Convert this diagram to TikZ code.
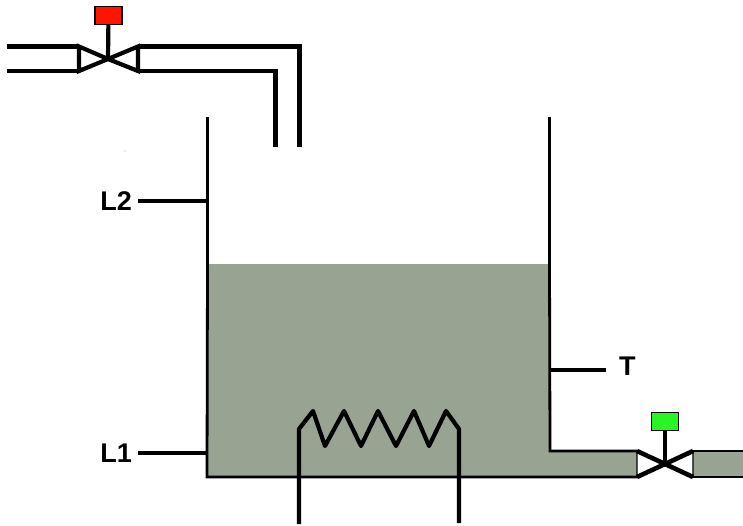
\documentclass[tikz,border=0pt]{standalone}
\usepackage{fontspec}
\setmainfont{Liberation Sans}
\usetikzlibrary{positioning, calc}
\definecolor{liquid}{RGB}{153,163,146}
\definecolor{redact}{RGB}{255,20,0}
\definecolor{greenact}{RGB}{40,245,35}
\tikzset{
  pipe/.style={draw, line width=4.2pt},
  wall/.style={draw, line width=3.8pt},
  edgeline/.style={draw, line width=2.8pt},
  valve/.style={draw, fill=white, line width=4.2pt, line join=miter},
  valvethin/.style={draw, fill=white, line width=1.4pt},
  act/.style={draw=black, line width=1.8pt, fill=#1, minimum width=27pt, minimum height=18pt, inner sep=0pt, outer sep=0pt},
  tag/.style={font=\fontsize{27}{27}\selectfont\bfseries, inner sep=0pt},
}
\begin{document}
\begin{tikzpicture}[x=1pt, y=-1pt]
    \useasboundingbox (0,0) rectangle (743,525);
    % liquid
    \fill[liquid] (207,264) rectangle (549,477);
    \fill[liquid] (549,451) rectangle (637,477);
    \fill[liquid] (693,451) rectangle (743,477);
    % tank
    \coordinate (wallLtop) at (207.5,117);
    \coordinate (wallLbot) at (207.5,264);
    \coordinate (wallRtop) at (549.5,117);
    \coordinate (wallRbot) at (549.5,264);
    \coordinate (tankBL) at (207,477);
    \coordinate (outT) at (550,451);
    \coordinate (outTend) at (637,451);
    \coordinate (outBend) at (637,477);
    \coordinate (pipeRT) at (693,451);
    \coordinate (pipeRB) at (693,477);
    \coordinate (endRT) at (743,451);
    \coordinate (endRB) at (743,477);
    \draw[wall] (wallLtop) -- (wallLbot);
    \draw[wall] (wallRtop) -- (wallRbot);
    \draw[edgeline] (wallLbot) -- (tankBL) -- (outBend);
    \draw[edgeline] (wallRbot) -- (outT) -- (outTend);
    \draw[edgeline] (pipeRT) -- (endRT);
    \draw[edgeline] (pipeRB) -- (endRB);
    % inlet valve
    \coordinate (vin) at (108,59);
    \coordinate (inTL) at (7,46.5);
    \coordinate (inBL) at (7,71);
    \coordinate (vinTL) at (79,46.5);
    \coordinate (vinBL) at (79,71);
    \coordinate (vinTR) at (138,46.5);
    \coordinate (vinBR) at (138,71);
    \coordinate (inTR) at (299.5,46.5);
    \coordinate (inBR) at (275.5,71);
    \coordinate (inTE) at (299.5,147);
    \coordinate (inBE) at (275.5,147);
    \node[act=redact] (actin) at (108.5,15.5) {};
    \draw[pipe] (inTL) -- (vinTL);
    \draw[pipe] (inBL) -- (vinBL);
    \draw[pipe] (vinTR) -- (inTR) -- (inTE);
    \draw[pipe] (vinBR) -- (inBR) -- (inBE);
    \path[valve] (vin) -- (vinTL) -- (vinBL) -- cycle;
    \path[valve] (vin) -- (vinTR) -- (vinBR) -- cycle;
    \draw[pipe] (actin) -- (vin);
    % outlet valve
    \coordinate (vout) at (665,464);
    \node[act=greenact] (actout) at (665,421.5) {};
    \path[valvethin] (vout) -- (outTend) -- (outBend) -- cycle;
    \path[valvethin] (vout) -- (pipeRT) -- (pipeRB) -- cycle;
    \draw[pipe, line width=4.6pt] (outTend) -- (pipeRB);
    \draw[pipe, line width=4.6pt] (outBend) -- (pipeRT);
    \draw[pipe] (actout) -- (vout);
    % heater
    \coordinate (heatL) at (299,429);
    \coordinate (heatR) at (459,429);
    \coordinate (leadL) at (299,524);
    \coordinate (leadR) at (459,523);
    \draw[pipe, line join=round] (leadL) -- (heatL) -- (313,411) -- (325,446) -- (344,411) -- (361,446)
      -- (378,411) -- (396,446) -- (414,411) -- (429,446) -- (446,411) -- (heatR) -- (leadR);
    % sensors
    \coordinate (sL2) at (207,201);
    \coordinate (sL1) at (207,453);
    \coordinate (sT) at (550,370);
    \coordinate (eL2) at (138,201);
    \coordinate (eL1) at (138,453);
    \coordinate (eT) at (606,370);
    \draw[pipe] (eL2) -- (sL2);
    \draw[pipe] (eL1) -- (sL1);
    \draw[pipe] (sT) -- (eT);
    \node[tag, left=6pt of eL2] (L2) {L2};
    \node[tag, left=6pt of eL1] (L1) {L1};
    \node[tag, right=13pt of eT, yshift=4pt] (T) {T};
    \fill[gray!70] (125,151) circle (0.6pt);
\end{tikzpicture}
\end{document}
